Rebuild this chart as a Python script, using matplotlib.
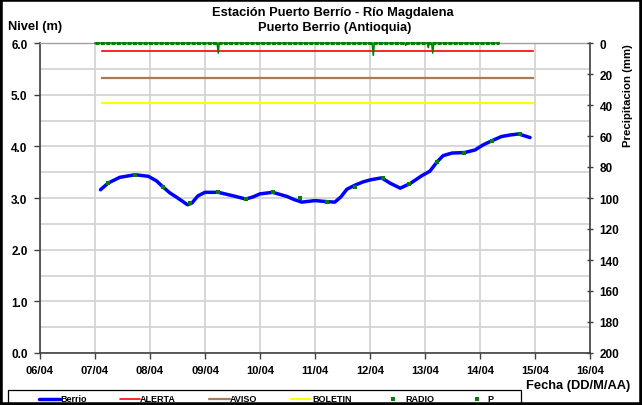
import matplotlib
matplotlib.use("Agg")
import matplotlib.pyplot as plt
from matplotlib.lines import Line2D
from matplotlib.patches import Rectangle

plt.rcParams['font.family'] = ['Liberation Sans', 'DejaVu Sans']
plt.rcParams['font.weight'] = 'bold'

# ---- data (x = days since 06/04 00:00) ----
tick_labels = ["06/04", "07/04", "08/04", "09/04", "10/04", "11/04",
               "12/04", "13/04", "14/04", "15/04", "16/04"]

berrio_day = [1.10, 1.24, 1.45, 1.73, 1.97, 2.12, 2.24, 2.36, 2.49, 2.60, 2.68, 2.76,
              2.87, 3.00, 3.24, 3.52, 3.74, 3.87, 4.00, 4.23, 4.49, 4.62, 4.76,
              5.00, 5.21, 5.36, 5.47, 5.58, 5.73, 5.87, 6.00, 6.21, 6.36, 6.55,
              6.73, 6.94, 7.09, 7.22, 7.33, 7.49, 7.72, 7.91, 8.06, 8.22, 8.39,
              8.55, 8.70, 8.91]
berrio_val = [3.16, 3.29, 3.40, 3.45, 3.42, 3.33, 3.21, 3.10, 3.01, 2.93, 2.87, 2.90,
              3.04, 3.11, 3.11, 3.04, 2.98, 3.02, 3.08, 3.11, 3.03, 2.97, 2.92,
              2.95, 2.93, 2.92, 3.02, 3.17, 3.25, 3.31, 3.35, 3.39, 3.29, 3.19,
              3.28, 3.43, 3.52, 3.70, 3.82, 3.87, 3.88, 3.93, 4.03, 4.11, 4.19,
              4.22, 4.24, 4.17]

radio_day = [1.24, 1.73, 2.24, 2.73, 3.24, 3.74, 4.23, 4.73, 5.22, 5.73,
             6.23, 6.71, 7.22, 7.71, 8.22, 8.72]
radio_val = [3.29, 3.45, 3.21, 2.90, 3.11, 2.99, 3.11, 3.00, 2.93, 3.21,
             3.39, 3.28, 3.70, 3.88, 4.11, 4.24]

threshold_span = [1.13, 8.96]
alerta = 5.84
aviso = 5.32
boletin = 4.83

p_day = [1.00, 1.92, 1.93, 1.94, 3.22, 3.24, 3.26, 6.04, 6.06, 6.08,
         6.63, 6.65, 6.67, 7.04, 7.06, 7.08, 7.12, 7.14, 7.16, 8.35]
p_val = [0, 0, 1.0, 0, 0, 6.5, 0, 0, 8.0, 0,
         0, 1.5, 0, 0, 3.0, 0, 0, 6.5, 0, 0]

# ---- figure ----
W, H = 642, 406
fig = plt.figure(figsize=(W / 100, H / 100), dpi=100)
L, R, T, B = 40, 590, 44, 354
ax = fig.add_axes([L / W, (H - B) / H, (R - L) / W, (B - T) / H])

grid_c = "#d4d4d4"
spine_c = "#404040"
ax.set_xlim(0, 10)
ax.set_ylim(0, 6)
ax.set_xticks(range(11))
ax.set_xticklabels(tick_labels)
ax.set_yticks([0, 1, 2, 3, 4, 5, 6])
ax.set_yticklabels([f"{v:.1f}" for v in range(7)])
ax.set_yticks([0.5, 1.5, 2.5, 3.5, 4.5, 5.5], minor=True)
ax.grid(True, which='both', color=grid_c, lw=1.3)
ax.tick_params(axis='y', which='minor', length=0)
ax.tick_params(axis='both', which='major', length=4, width=1, color=spine_c, pad=5)
ax.tick_params(axis='x', labelsize=8)
ax.tick_params(axis='y', labelsize=8.5)
ax.set_axisbelow(True)
for s in ['left', 'bottom', 'right']:
    ax.spines[s].set_color(spine_c)
    ax.spines[s].set_linewidth(1.2)
ax.spines['top'].set_color("#a0a0a0")
ax.spines['top'].set_linewidth(1.0)

c_berrio, c_alerta, c_aviso, c_boletin, c_green = "#0000ff", "#ff0000", "#a57c55", "#ffff00", "#008000"

ax.plot(threshold_span, [alerta, alerta], color=c_alerta, lw=1.2)
ax.plot(threshold_span, [aviso, aviso], color=c_aviso, lw=1.6)
ax.plot(threshold_span, [boletin, boletin], color=c_boletin, lw=1.6)
ax.plot(berrio_day, berrio_val, color=c_berrio, lw=2.5, solid_capstyle='round', zorder=4)
ax.plot(radio_day, radio_val, ls='none', marker='s', ms=2.6, color=c_green, mew=0, zorder=5)

ax2 = ax.twinx()
ax2.set_ylim(200, 0)
ax2.set_yticks(range(0, 201, 20))
ax2.tick_params(axis='y', labelsize=8.5, length=4, width=1, color=spine_c, pad=5, direction='inout')
for s in ax2.spines.values():
    s.set_visible(False)
# hourly P markers along zero baseline, and the line through the readings
ax2.plot([p_day[0], p_day[-1]], [0, 0], color=c_green, lw=2.2, ls=(0, (1.3, 0.45)),
         zorder=3, clip_on=False)
ax2.plot(p_day, p_val, color=c_green, lw=1.1, zorder=3, clip_on=False)

fig.text(628 / W, 1 - 96 / H, "Precipitacion (mm)", fontsize=8.2, fontweight='bold',
         rotation=90, ha='center', va='center')
fig.text(8 / W, 1 - 27 / H, "Nivel (m)", fontsize=9.3, fontweight='bold', va='center', ha='left')
fig.text(333 / W, 1 - 13 / H, "Estación Puerto Berrío - Río Magdalena", fontsize=9.3,
         fontweight='bold', ha='center', va='center')
fig.text(335 / W, 1 - 28 / H, "Puerto Berrio (Antioquia)", fontsize=9.3,
         fontweight='bold', ha='center', va='center')
fig.text(630 / W, 1 - 386 / H, "Fecha (DD/M/AA)", fontsize=9.3, fontweight='bold',
         ha='right', va='center')

# ---- legend (drawn in figure pixels) ----
def fx(px):
    return px / W

def fy(py):
    return 1 - py / H

leg_y = 400
fig.add_artist(Rectangle((fx(8), fy(412)), fx(521) - fx(8), fy(391) - fy(412),
                         transform=fig.transFigure, fill=False, edgecolor='black',
                         lw=0.9, clip_on=False))
leg_lines = [("Berrio", c_berrio, 2.5, 39, 60, 60),
             ("ALERTA", c_alerta, 1.2, 120, 140, 140),
             ("AVISO", c_aviso, 1.6, 209, 230, 230),
             ("BOLETIN", c_boletin, 1.6, 291, 310, 312)]
for lab, col, lw, x0, x1, tx in leg_lines:
    fig.add_artist(Line2D([fx(x0), fx(x1)], [fy(leg_y), fy(leg_y)], color=col, lw=lw,
                          transform=fig.transFigure, solid_capstyle='round'))
    fig.text(fx(tx), fy(leg_y), lab, fontsize=6.5, fontweight='bold', ha='left', va='center')
for lab, dx, tx in [("RADIO", 393, 405), ("P", 477, 487)]:
    fig.add_artist(Line2D([fx(dx)], [fy(leg_y)], ls='none', marker='s', ms=2.2, mew=0,
                          color=c_green, transform=fig.transFigure))
    fig.text(fx(tx), fy(leg_y), lab, fontsize=6.5, fontweight='bold', ha='left', va='center')

fig.add_artist(Rectangle((0, 0), 1, 1, transform=fig.transFigure, fill=False,
                         edgecolor='black', lw=4, clip_on=False))

fig.savefig("out.png", dpi=100)
